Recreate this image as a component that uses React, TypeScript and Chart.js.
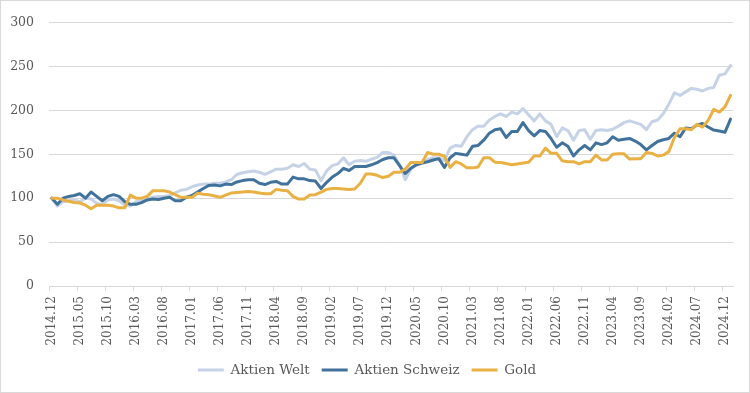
import React, { useEffect, useRef } from 'react';
import { Chart, registerables } from 'chart.js';

Chart.register(...registerables);

// Months from 2014.12 to 2025.01 (122 monthly categories)
const START_YEAR = 2014;
const START_MONTH = 12;
const MONTH_COUNT = 122;
const categories: string[] = [];
for (let k = 0; k < MONTH_COUNT; k++) {
  const m = ((START_MONTH - 1 + k) % 12) + 1;
  const y = START_YEAR + Math.floor((START_MONTH - 1 + k) / 12);
  categories.push(`${y}.${String(m).padStart(2, '0')}`);
}

const seriesNames = ['Aktien Welt', 'Aktien Schweiz', 'Gold'];

const aktienWelt = [
  100, 91, 96, 97, 98, 96, 100, 99, 94, 93,
  98, 99, 97, 92, 91, 96, 97, 99, 101, 102,
  102, 103, 106, 109, 110, 113, 115, 116, 116, 117,
  117, 118.5, 121, 127, 129, 130, 131, 129.5, 127, 130,
  133, 133, 134, 138, 136, 139.5, 133, 132, 120, 131,
  137, 139, 146, 138, 142, 143, 142, 144.5, 146.5, 152,
  152, 149, 138, 121, 133, 138, 140, 144, 146, 146,
  143, 157, 160, 159, 170, 178, 182, 182, 189, 193,
  196, 193, 198, 196, 202, 195, 188, 196, 188, 184,
  170, 180, 177, 166, 177, 178, 167, 177, 178, 177,
  178.5, 182, 186, 188, 186, 184, 178, 187, 189, 196,
  207, 220, 217, 221, 225, 224, 222, 225, 226, 240,
  241.5, 251,
];

const aktienSchweiz = [
  100, 93, 100, 102, 103, 105, 100, 107, 102, 97,
  102, 104, 102, 96, 93, 93, 95, 98, 99, 98.5,
  100, 101, 97, 97, 101, 103, 107, 111, 114.5, 115,
  114, 116, 115.5, 118.5, 120, 121, 121, 117, 115.5, 118,
  119, 116, 116, 124, 122, 122, 120, 119.5, 111, 118,
  124, 128, 134, 131.5, 136, 136, 136, 138, 140.5, 144,
  146, 146, 137, 128, 134, 138, 140, 141.5, 143.5, 145,
  135, 146, 151, 150, 149, 159, 160, 166, 174, 178,
  179, 169, 176, 176, 186, 177, 171, 177, 176, 168,
  158, 163, 159, 148, 155, 160, 155, 163, 161, 163,
  170, 166, 167, 168, 165, 161, 155, 160, 164.5, 166.5,
  168, 174, 170, 180, 179, 183, 185, 181, 177.5, 176.5,
  175, 190,
];

const gold = [
  100, 100, 98, 96.5, 95, 94.5, 92, 88, 92, 92,
  92, 91, 89, 89, 103.5, 100, 100, 102, 108.5, 108.5,
  108.5, 107, 104, 101, 101, 101, 105.5, 104.5, 104, 102.5,
  101, 103.5, 106, 106.5, 107, 107.5, 107, 106, 105, 105,
  110, 109, 108.5, 102, 99, 99, 103.5, 104, 107, 110,
  111, 111, 110.5, 110, 110.5, 117, 127.5, 127.5, 126, 123.5,
  125, 129.5, 129.5, 133, 140.5, 140.5, 140.5, 152, 150, 150,
  147.5, 135, 141.5, 139, 134.5, 134.5, 135.5, 146, 146, 141,
  140.5, 139.5, 138, 139, 140, 141, 148, 148, 157, 151,
  151, 142.5, 141.5, 141.5, 139, 141.5, 141.5, 149, 143.5, 143.5,
  150, 150.5, 150.5, 144.5, 145, 145, 152, 151, 148, 149,
  153, 169, 179, 179, 178, 184, 181, 188.5, 201, 198,
  204, 217,
];

const yTicks = [0, 50, 100, 150, 200, 250, 300];

const COLORS = ['#c6d3e6', '#41729c', '#e9b143'];
const TEXT = '#595959';
const GRID = '#d9d9d9';
const FONT = "'DejaVu Serif', serif";

const frame = {
  id: 'frame',
  beforeDraw(chart: any) {
    const { ctx, width, height } = chart;
    ctx.save();
    ctx.fillStyle = '#ffffff';
    ctx.fillRect(0, 0, width, height);
    ctx.restore();
  },
  afterDraw(chart: any) {
    const { ctx, width, height } = chart;
    ctx.save();
    ctx.strokeStyle = GRID;
    ctx.lineWidth = 1;
    ctx.strokeRect(0.5, 0.5, width - 1, height - 1);
    ctx.restore();
  },
};

export default function App() {
  const ref = useRef<HTMLCanvasElement | null>(null);

  useEffect(() => {
    if (!ref.current) return;
    const seriesData = [aktienWelt, aktienSchweiz, gold];
    const chart = new Chart(ref.current, {
      type: 'line',
      data: {
        labels: categories,
        datasets: seriesNames.map((name, i) => ({
          label: name,
          data: seriesData[i],
          borderColor: COLORS[i],
          backgroundColor: COLORS[i],
          borderWidth: 3,
          pointRadius: 0,
          pointHoverRadius: 0,
          tension: 0,
          fill: false,
          borderJoinStyle: 'round' as const,
          borderCapStyle: 'round' as const,
          order: 3 - i,
        })),
      },
      options: {
        responsive: false,
        animation: false,
        devicePixelRatio: 1,
        layout: { padding: { top: 17, right: 16, bottom: 6.25, left: 0 } },
        plugins: {
          tooltip: { enabled: false },
          legend: {
            position: 'bottom',
            labels: {
              usePointStyle: true,
              pointStyle: 'line',
              pointStyleWidth: 26,
              padding: 12,
              color: TEXT,
              font: { family: FONT, size: 13.5 },
              sort: (a: any, b: any) => a.datasetIndex - b.datasetIndex,
            },
          },
        },
        scales: {
          x: {
            type: 'category',
            offset: true,
            grid: {
              offset: true,
              drawOnChartArea: false,
              drawTicks: true,
              tickLength: 5,
              color: GRID,
              tickColor: (ctx: any) =>
                typeof ctx.index === 'number' && ctx.index % 5 === 0 ? GRID : 'rgba(0,0,0,0)',
            },
            border: { display: true, color: GRID, width: 1 },
            ticks: {
              autoSkip: false,
              minRotation: 90,
              maxRotation: 90,
              padding: 5,
              color: TEXT,
              font: { family: FONT, size: 12 },
              callback: (_v: any, i: number) => (i % 5 === 0 ? categories[i] : ''),
            },
            afterFit: (s: any) => {
              s.height = 65.25;
            },
          },
          y: {
            min: yTicks[0],
            max: yTicks[yTicks.length - 1],
            afterBuildTicks: (s: any) => {
              s.ticks = yTicks.map((v) => ({ value: v }));
            },
            grid: { color: GRID, drawTicks: false, lineWidth: 1 },
            border: { display: false },
            ticks: {
              padding: 15,
              color: TEXT,
              font: { family: FONT, size: 12.5 },
            },
            afterFit: (s: any) => {
              s.width = 49;
            },
          },
        },
      },
      plugins: [frame],
    });
    return () => chart.destroy();
  }, []);

  return (
    <div style={{ position: 'absolute', left: 0, top: 0, width: 750, height: 393, background: '#fff' }}>
      <canvas ref={ref} width={750} height={393} style={{ display: 'block', width: 750, height: 393 }} />
    </div>
  );
}
